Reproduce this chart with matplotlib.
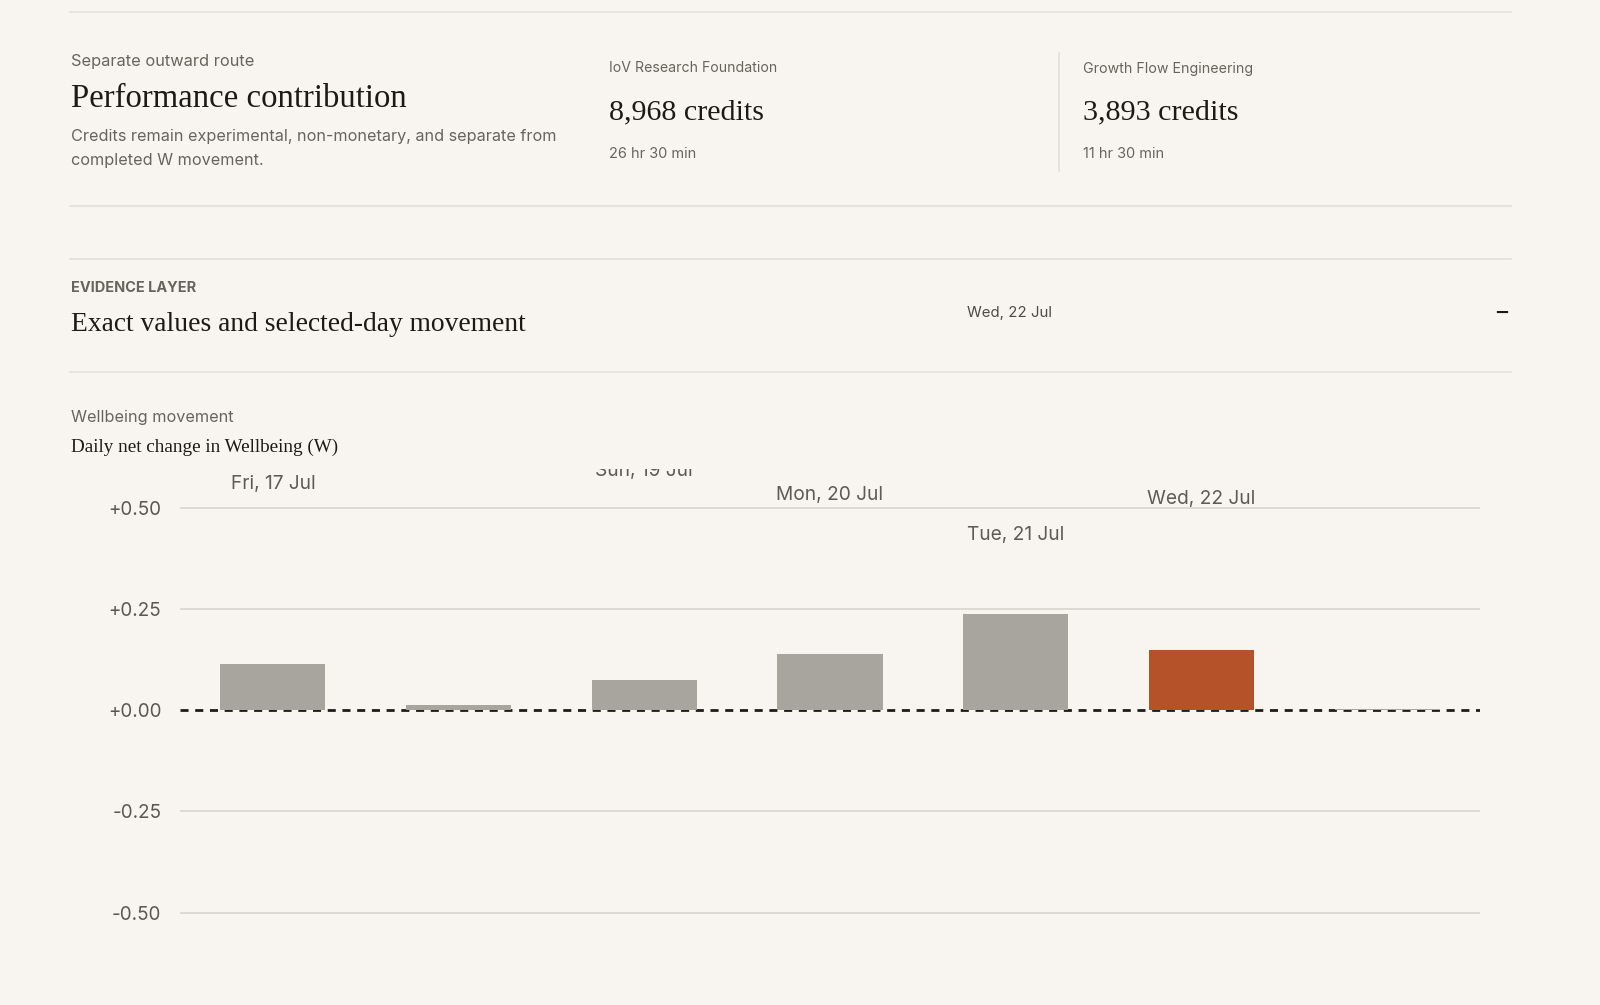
import matplotlib
matplotlib.use("Agg")
import matplotlib.pyplot as plt
from matplotlib.lines import Line2D

# ---------------- data ----------------
days = ["Fri, 17 Jul", "Sat, 18 Jul", "Sun, 19 Jul", "Mon, 20 Jul",
        "Tue, 21 Jul", "Wed, 22 Jul", "Thu, 23 Jul"]
w_change = [0.114, 0.012, 0.075, 0.138, 0.236, 0.148, 0.002]
selected_day = "Wed, 22 Jul"
# date labels floating above bars (label text, height in W units)
label_days = ["Fri, 17 Jul", "Sun, 19 Jul", "Mon, 20 Jul", "Tue, 21 Jul", "Wed, 22 Jul"]
label_heights = [0.563, 0.596, 0.536, 0.437, 0.526]
ytick_values = [0.5, 0.25, 0.0, -0.25, -0.5]
ytick_labels = ["+0.50", "+0.25", "+0.00", "-0.25", "-0.50"]

org1_name, org1_credits, org1_time = "IoV Research Foundation", "8,968 credits", "26 hr 30 min"
org2_name, org2_credits, org2_time = "Growth Flow Engineering", "3,893 credits", "11 hr 30 min"

# ---------------- style ----------------
W, H = 1600, 1005
BG = "#f8f5f0"
RULE = "#e3ded7"
DARK = "#1d1a16"
GREY = "#69635d"
TICK = "#5c5751"
BAR = "#a8a59e"
HIGHLIGHT = "#b5522a"
SANS = ["Inter", "DejaVu Sans"]
SERIF = ["Liberation Serif", "DejaVu Serif"]

fig = plt.figure(figsize=(W / 100, H / 100), dpi=100, facecolor=BG)
renderer = fig.canvas.get_renderer()


def fy(y):
    return 1 - y / H


def ptext(x, y, s, width, family=SANS, color=DARK, weight="normal", ha="left", va="center_baseline"):
    t = fig.text(x / W, fy(y), s, fontsize=12, family=family, color=color,
                 weight=weight, ha=ha, va=va)
    bw = t.get_window_extent(renderer).width
    t.set_fontsize(12 * width / bw)
    return t


def hrule(y, x0=70, x1=1511, color=RULE, lw=1.1):
    fig.add_artist(Line2D([x0 / W, x1 / W], [fy(y), fy(y)], color=color, lw=lw,
                          transform=fig.transFigure))


# separators
hrule(12)
hrule(206)
hrule(259)
hrule(372)
fig.add_artist(Line2D([1059 / W, 1059 / W], [fy(53), fy(171)], color=RULE, lw=1.1,
                      transform=fig.transFigure))

# header block
ptext(71, 60, "Separate outward route", 183, color=GREY)
ptext(71, 95, "Performance contribution", 335, family=SERIF)
ptext(71, 135, "Credits remain experimental, non-monetary, and separate from", 484, color=GREY)
t = ptext(71, 159, "completed W movement.", 100, color=GREY)
t.set_fontsize(fig.texts[-2].get_fontsize())

ptext(609, 67, org1_name, 167, color=GREY)
ptext(609, 109, org1_credits, 155, family=SERIF)
ptext(609, 153, org1_time, 87, color=GREY)
ptext(1083, 67, org2_name, 169, color=GREY)
ptext(1083, 109, org2_credits, 155, family=SERIF)
ptext(1083, 153, org2_time, 81, color=GREY)

# evidence layer header
ptext(71, 287, "EVIDENCE LAYER", 125, color=GREY, weight="bold")
ptext(71, 321, "Exact values and selected-day movement", 454, family=SERIF)
ptext(967, 311, selected_day, 85, color="#4f4a45")
ptext(1502, 313, "−", 15, family=["DejaVu Sans"], color=DARK, weight="bold", ha="center", va="center")

ptext(71, 416, "Wellbeing movement", 162, color=GREY)
ptext(71, 445, "Daily net change in Wellbeing (W)", 267, family=SERIF)

# ---------------- chart ----------------
ax_left, ax_right, ax_top, ax_bottom = 180, 1480, 469, 1005
ax = fig.add_axes([ax_left / W, 1 - ax_bottom / H, (ax_right - ax_left) / W,
                   (ax_bottom - ax_top) / H])
ax.set_facecolor("none")
px_per_unit = 405.0
zero_y = 710
ax.set_ylim((zero_y - ax_bottom) / px_per_unit, (zero_y - ax_top) / px_per_unit)
ax.set_xlim(-0.5, len(days) - 0.5)

for v in ytick_values:
    if v != 0:
        ax.axhline(v, color="#dedad3", lw=1.4, zorder=1)
ax.axhline(0, color="#1e1b18", lw=2.0, dashes=(2.9, 2.4), zorder=2)

x = list(range(len(days)))
colors = [HIGHLIGHT if d == selected_day else BAR for d in days]
ax.bar(x, w_change, width=0.566, color=colors, zorder=3)

# tick labels
meas = fig.text(0, 0, "+0.50", fontsize=12, family=SANS)
tick_fs = 12 * 53 / meas.get_window_extent(renderer).width
meas.remove()
ax.set_yticks(ytick_values)
ax.set_yticklabels(ytick_labels, fontsize=tick_fs, color=TICK, family=SANS)
ax.tick_params(axis="y", length=0, pad=13.5)
ax.set_xticks([])
for s in ax.spines.values():
    s.set_visible(False)

# floating date labels
meas = fig.text(0, 0, "Fri, 17 Jul", fontsize=12, family=SANS)
lab_fs = 12 * 85 / meas.get_window_extent(renderer).width
meas.remove()
for d, h in zip(label_days, label_heights):
    ax.text(days.index(d), h, d, ha="center", va="center_baseline", fontsize=lab_fs,
            family=SANS, color="#5f5a55", clip_on=True, zorder=4)

fig.savefig("out.png", dpi=100, facecolor=BG)
